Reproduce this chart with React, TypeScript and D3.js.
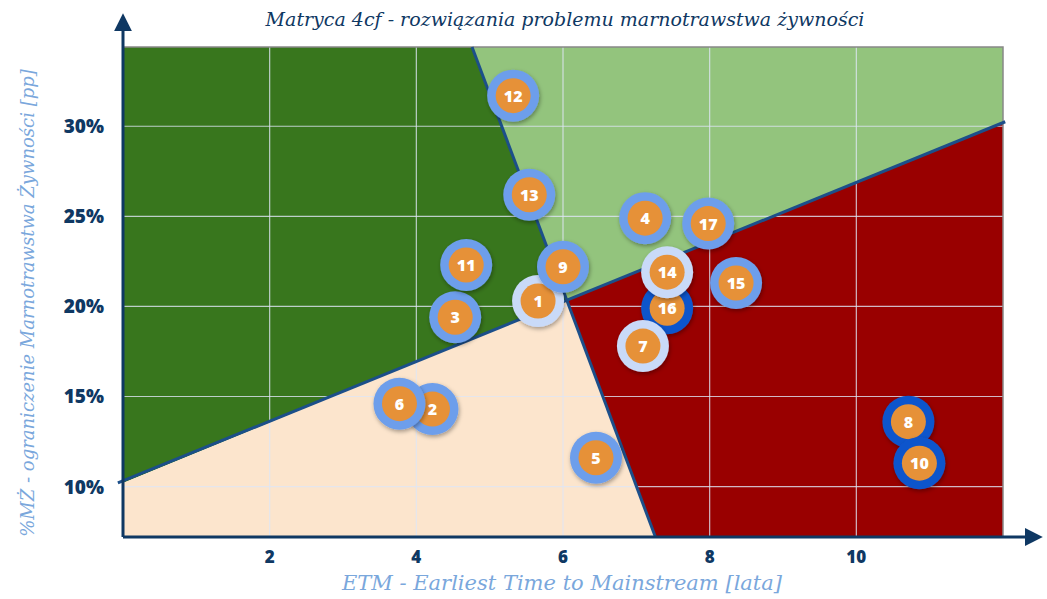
import React from 'react';
import * as d3 from 'd3';

// points: id, ETM [lata], %MŻ, ring type
const ids = [1, 2, 3, 4, 5, 6, 7, 8, 9, 10, 11, 12, 13, 14, 15, 16, 17];
const etm = [5.66, 4.22, 4.53, 7.12, 6.45, 3.77, 7.09, 10.71, 6.0, 10.86, 4.68, 5.32, 5.54, 7.42, 8.36, 7.42, 7.98];
const mz = [20.3, 14.3, 19.4, 24.9, 11.6, 14.6, 17.8, 13.6, 22.2, 11.3, 22.3, 31.7, 26.2, 21.9, 21.3, 19.9, 24.6];
const ring = ['light', 'mid', 'mid', 'mid', 'mid', 'mid', 'light', 'dark', 'mid', 'dark', 'mid', 'mid', 'mid', 'light', 'mid', 'dark', 'mid'];
const drawOrder = [1, 2, 3, 4, 5, 6, 8, 9, 10, 11, 12, 13, 15, 16, 14, 7, 17];

const xTicks = [2, 4, 6, 8, 10];
const yTicks = [10, 15, 20, 25, 30];

// boundaries (data coords)
const lineA = [[-0.07, 10.2], [12.03, 30.25]];
const lineB = [[4.76, 34.4], [7.26, 7.2]];

const X_DOMAIN = [0, 12];
const Y_DOMAIN = [7.2, 34.4];

const ringColor: Record<string, string> = { light: '#c9daf8', mid: '#6d9eeb', dark: '#1155cc' };
const navy = '#0f3863';

function intersect(a: number[][], b: number[][]) {
  const [[x1, y1], [x2, y2]] = a;
  const [[x3, y3], [x4, y4]] = b;
  const d = (x1 - x2) * (y3 - y4) - (y1 - y2) * (x3 - x4);
  const t = ((x1 - x3) * (y3 - y4) - (y1 - y3) * (x3 - x4)) / d;
  return [x1 + t * (x2 - x1), y1 + t * (y2 - y1)];
}

export default function App() {
  const W = 1047, H = 599;
  const left = 123, right = 1003, top = 47, bottom = 537;
  const x = d3.scaleLinear().domain(X_DOMAIN).range([left, right]);
  const y = d3.scaleLinear().domain(Y_DOMAIN).range([bottom, top]);

  const P = intersect(lineA, lineB);
  const [x0, x1] = X_DOMAIN;
  const [y0, y1] = Y_DOMAIN;
  const line = d3.line<number[]>().x(d => x(d[0])).y(d => y(d[1]));
  const poly = (pts: number[][]) => line(pts) + 'Z';
  const aL = [x0, lineA[0][1]];
  const aR = [x1, lineA[1][1]];

  const regions = [
    { color: '#38761d', pts: [[x0, y1], lineB[0], P, aL] },
    { color: '#93c47d', pts: [lineB[0], [x1, y1], aR, P] },
    { color: '#990000', pts: [P, aR, [x1, y0], lineB[1]] },
    { color: '#fce5cd', pts: [aL, P, lineB[1], [x0, y0]] },
  ];

  const scriptFont = '"DejaVu Serif", serif';
  const tickFont = '"Open Sans", Lato, sans-serif';

  return (
    <svg width={W} height={H} style={{ position: 'absolute', left: 0, top: 0, background: '#fff' }}>
      <defs>
        <filter id="sh" x="-30%" y="-30%" width="160%" height="160%">
          <feDropShadow dx="1" dy="2" stdDeviation="2" floodColor="#000" floodOpacity="0.35" />
        </filter>
        <marker id="arr" viewBox="0 0 10 10" refX="4" refY="5" markerWidth="6" markerHeight="6" orient="auto">
          <path d="M0,0L10,5L0,10Z" fill={navy} />
        </marker>
      </defs>

      {regions.map((r, i) => (
        <path key={i} d={poly(r.pts)} fill={r.color} />
      ))}

      {/* gridlines */}
      {xTicks.map(t => (
        <line key={'gx' + t} x1={x(t)} x2={x(t)} y1={top} y2={bottom} stroke="#dfe6f5" strokeOpacity={0.8} strokeWidth={1.2} />
      ))}
      {yTicks.map(t => (
        <line key={'gy' + t} x1={left} x2={right} y1={y(t)} y2={y(t)} stroke="#dfe6f5" strokeOpacity={0.8} strokeWidth={1.2} />
      ))}

      {/* plot frame top/right */}
      <path d={`M${left},${top}H${right}V${bottom}`} fill="none" stroke="#888" strokeWidth={1.5} />

      {/* boundary lines */}
      <path d={line(lineA) as string} stroke="#1c4f8a" strokeWidth={3} fill="none" />
      <path d={line(lineB) as string} stroke="#1c4f8a" strokeWidth={3} fill="none" />

      {/* axes */}
      <line x1={left} y1={bottom} x2={left} y2={24} stroke={navy} strokeWidth={3} markerEnd="url(#arr)" />
      <line x1={left} y1={bottom} x2={1032} y2={bottom} stroke={navy} strokeWidth={3} markerEnd="url(#arr)" />

      {xTicks.map(t => (
        <text key={'tx' + t} x={x(t)} y={563} textAnchor="middle" fontFamily={tickFont} fontWeight={800} fontSize={17} fill={navy}>
          {t}
        </text>
      ))}
      {yTicks.map(t => (
        <text key={'ty' + t} x={104} y={y(t) + 7} textAnchor="end" fontFamily={tickFont} fontWeight={800} fontSize={19} fill={navy}>
          {t}%
        </text>
      ))}

      <text x={565} y={26} textAnchor="middle" fontFamily={scriptFont} fontStyle="italic" fontSize={19} fill={navy}>
        Matryca 4cf - rozwiązania problemu marnotrawstwa żywności
      </text>
      <text x={562} y={590} textAnchor="middle" fontFamily={scriptFont} fontStyle="italic" fontSize={21} fill="#7aa7dc">
        ETM - Earliest Time to Mainstream [lata]
      </text>
      <text transform="translate(34,303) rotate(-90)" textAnchor="middle" fontFamily={scriptFont} fontStyle="italic" fontSize={18} fill="#7aa7dc">
        %MŻ - ograniczenie Marnotrawstwa Żywności [pp]
      </text>

      {/* points */}
      {drawOrder.map(id => {
        const i = ids.indexOf(id);
        const cx = x(etm[i]);
        const cy = y(mz[i]);
        return (
          <g key={id}>
            <circle cx={cx} cy={cy} r={26} fill={ringColor[ring[i]]} filter="url(#sh)" />
            <circle cx={cx} cy={cy} r={17.5} fill="#e69138" />
            <text x={cx} y={cy + 6} textAnchor="middle" fontFamily={tickFont} fontWeight={800} fontSize={16} fill="#fff">
              {id}
            </text>
          </g>
        );
      })}
    </svg>
  );
}
